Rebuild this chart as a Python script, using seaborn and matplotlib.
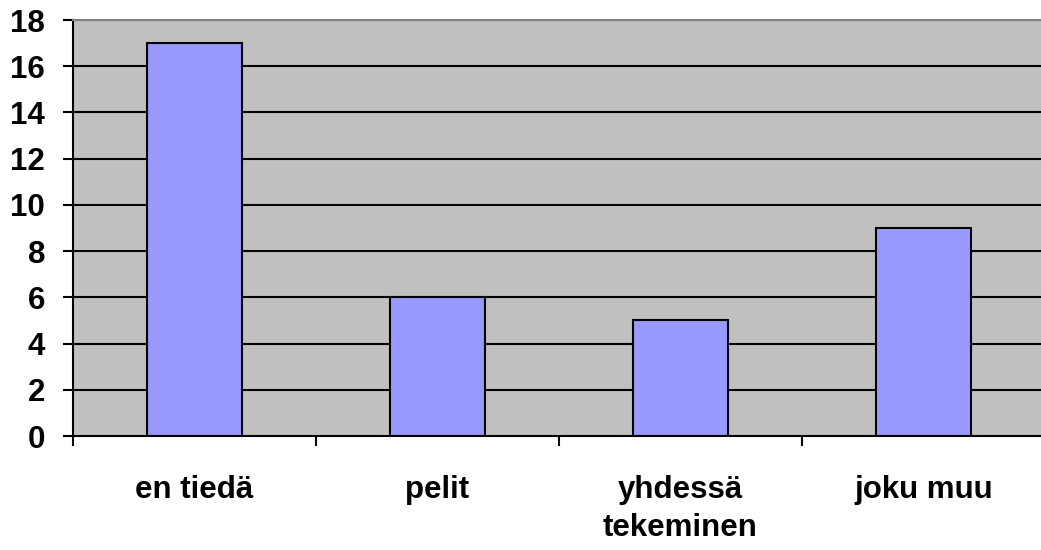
import numpy as np
import pandas as pd
import matplotlib
matplotlib.use("Agg")
import matplotlib.pyplot as plt
import seaborn as sns

categories = ["en tiedä", "pelit", "yhdessä\ntekeminen", "joku muu"]
counts = [17, 6, 5, 9]
yticks = [0, 2, 4, 6, 8, 10, 12, 14, 16, 18]

df = pd.DataFrame({"category": categories, "count": counts})

sns.set_style("white")
plt.rcParams['font.family'] = ['Liberation Sans', 'DejaVu Sans']
plt.rcParams['font.weight'] = 'bold'
plt.rcParams['text.color'] = 'black'
plt.rcParams['xtick.color'] = 'black'
plt.rcParams['ytick.color'] = 'black'
plt.rcParams['xtick.bottom'] = True
plt.rcParams['ytick.left'] = True

fig = plt.figure(figsize=(10.41, 5.5), dpi=100)
ax = fig.add_axes([73 / 1041, 114 / 550, 972 / 1041, 416 / 550])
ax.set_facecolor("#C0C0C0")

for y in yticks[1:]:
    ax.axhline(y, color="black", lw=1.5, zorder=0.5)

sns.barplot(data=df, x="category", y="count", color="#9999FF", saturation=1,
            width=0.395, edgecolor="black", linewidth=1.5, ax=ax, zorder=2)

ax.set_xlim(-0.5, 3.5)
ax.set_ylim(0, 18)
ax.set_yticks(yticks)
ax.set_yticklabels([str(v) for v in yticks], fontsize=22.5, fontweight="bold")
ax.set_xticks(range(len(categories)))
ax.set_xticklabels(categories, fontsize=22.5, fontweight="bold", linespacing=1.35)
ax.set_xticks(np.arange(-0.5, 4.0, 1.0), minor=True)
ax.tick_params(axis="x", which="major", bottom=True, length=0, pad=28, labelcolor="black")
ax.tick_params(axis="x", which="minor", bottom=True, length=7, width=1.5, color="black", direction="out")
ax.tick_params(axis="y", left=True, length=7, width=1.5, color="black", direction="out", pad=13,
               labelcolor="black")
ax.set_xlabel("")
ax.set_ylabel("")

for side in ["left", "bottom"]:
    ax.spines[side].set_color("black")
    ax.spines[side].set_linewidth(1.5)
ax.spines["top"].set_color("#808080")
ax.spines["top"].set_linewidth(1.5)
ax.spines["right"].set_visible(False)

fig.savefig("out.png", dpi=100)
